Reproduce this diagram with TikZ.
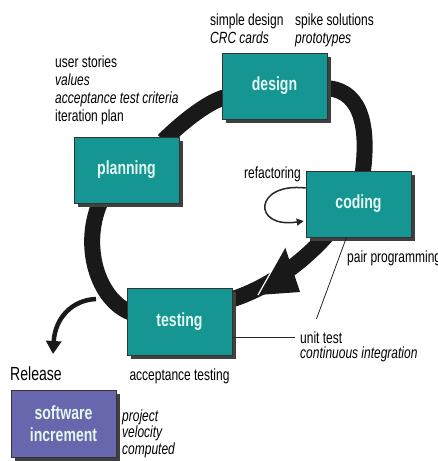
\documentclass[tikz,border=0pt]{standalone}
\usepackage{fontspec}
\setmainfont{Liberation Sans}[FakeStretch=0.74]
\usetikzlibrary{positioning,shadows,calc,arrows.meta,backgrounds}
\definecolor{phasefill}{RGB}{22,150,146}
\definecolor{releasefill}{RGB}{104,102,172}
\definecolor{phasetext}{RGB}{228,248,242}

\begin{document}
\begin{tikzpicture}[x=1pt, y=-1pt, node distance=4pt]
    \tikzstyle{phase} = [rectangle, draw=black!80, line width=0.6pt, fill=phasefill, minimum width=105pt, minimum height=66pt, text=phasetext, font=\fontsize{19}{22}\selectfont\bfseries, align=center, drop shadow={shadow xshift=4pt, shadow yshift=-4pt, fill=black!75, opacity=1}]
    \tikzstyle{release} = [phase, fill=releasefill, minimum height=67pt]
    \tikzstyle{note} = [inner sep=0pt, anchor=base west, align=left, font=\fontsize{16.2}{17.7}\selectfont]
    \tikzstyle{band} = [line width=16pt, black!90]
    \tikzstyle{thin} = [line width=0.8pt, black!85]

    \useasboundingbox (0,0) rectangle (437,461);

    % Phase boxes
    \node[phase] (design) at (274.5,86) {design};
    \node[phase] (planning) at (126.5,170) {planning};
    \node[phase] (coding) at (358.5,204) {coding};
    \node[phase, minimum height=67pt] (testing) at (179.5,321.5) {testing};
    \node[release] (increment) at (63.5,423.5) {software\\increment};

    % Practices round the boxes (base = last line)
    \node[note] (designnote) at (210,43) {simple design\\\textit{CRC cards}};
    \node[note] (spikenote) at (295,43) {spike solutions\\\textit{prototypes}};
    \node[note] (planningnote) at (55,121) {user stories\\\textit{values}\\\textit{acceptance test criteria}\\iteration plan};
    \node[note, anchor=base east] (refactoring) at (301,178) {refactoring};
    \node[note] (pairprog) at (347,262) {pair programming};
    \node[note] (unittest) at (300,343) {unit test};
    \node[note] (contint) [below=3.5pt of unittest.south west, anchor=north west] {\textit{continuous integration}};
    \node[note, anchor=base] (acctest) at ($(testing.south)+(0,25)$) {acceptance testing};
    \node[note, font=\fontsize{19}{20}\selectfont] (releasenote) at (10,380) {Release};
    \node[note, font=\fontsize{16.2}{14.5}\selectfont] (velocity) at (122,454) {\textit{project}\\\textit{velocity}\\\textit{computed}};

    % Iteration loop
    \begin{scope}[on background layer]
        \draw[band] ($(planning.north)+(37,4)$) .. controls (177,127) and (206,102) .. ($(design.west)+(4,11)$);
        \draw[band] ($(design.east)+(-4,2)$) .. controls (358,88) and (370,120) .. ($(coding.north)+(4,4)$);
        \draw[band] ($(coding.south)+(-30,-4)$) .. controls (305,260) and (270,288) .. ($(testing.east)+(-4,-21)$);
        \draw[band] ($(testing.west)+(4,-9)$) .. controls (98,300) and (80,245) .. ($(planning.south)+(-25,-4)$);
    \end{scope}
    \coordinate (headtop) at (285,247);
    \coordinate (headright) at (300,292);
    \coordinate (headtip) at (258,295);
    \fill[black!90] (headtop) -- (headright) -- (headtip) -- cycle;
    \draw[white, line width=1.2pt] (headtip) -- (headtop);

    % Release
    \coordinate (relstart) at (96,299);
    \coordinate (reltip) at (53,354);
    \draw[line width=4.5pt, black!90, -{Triangle[width=15pt,length=13pt]}] (relstart) .. controls (72,300) and (55,318) .. (reltip);

    % Refactoring loop
    \draw[thin, line width=1.5pt, -{Triangle[width=7pt,length=7pt]}] ($(coding.west)+(0,-16)$) .. controls +(-52,-6) and +(-52,8) .. ($(coding.west)+(-2,17)$);

    % Pointers to unit test
    \draw[thin, shorten >=13pt] ($(coding.south)+(-12,0)$) -- ([xshift=12pt]unittest.north west);
    \draw[thin] (testing.east |- unittest.west) -- ([xshift=-5pt]unittest.west);
\end{tikzpicture}
\end{document}
